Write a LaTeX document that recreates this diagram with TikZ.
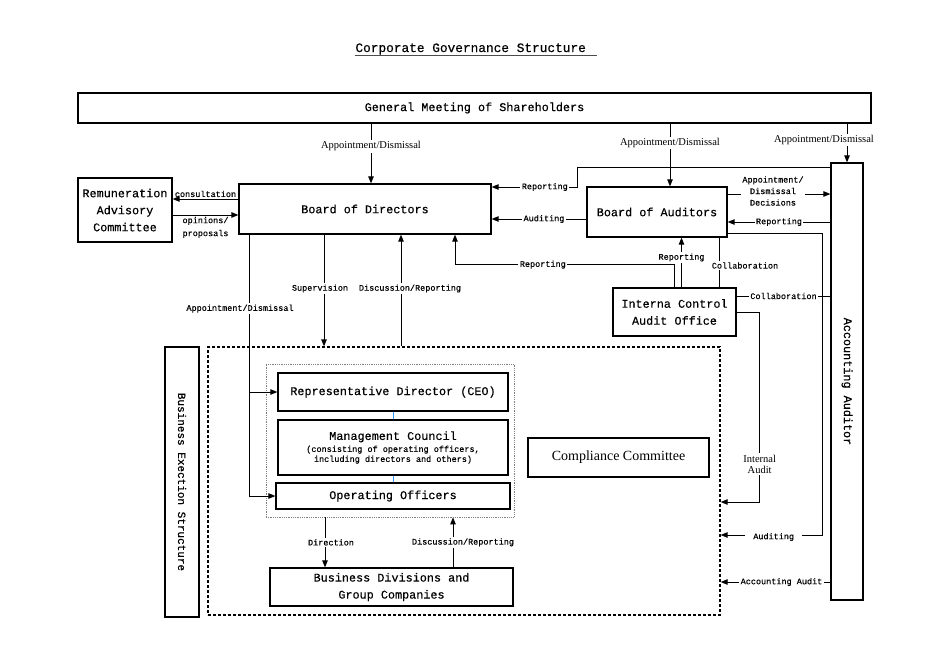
\documentclass[tikz,border=0pt]{standalone}
\usepackage{fontspec}
\usetikzlibrary{arrows.meta}
\newfontfamily\monofam{Liberation Mono}[FakeBold=0.35]
\newfontfamily\seriffam{Liberation Serif}
\newcommand\boxfont{\monofam\fontsize{11.8}{17}\selectfont}
\newcommand\lblfont{\monofam\fontsize{8.5}{11.5}\selectfont}
\newcommand\serlblfont{\seriffam\fontsize{10.5}{11}\selectfont}
\tikzset{
	box/.style={draw, line width=1.3pt, align=center, inner sep=1pt, font=\boxfont},
	lbl/.style={fill=white, inner sep=1.5pt, align=center, font=\lblfont},
	serlbl/.style={lbl, font=\serlblfont},
	arr/.style={-{Triangle[length=7pt,width=5.5pt]}},
}
\begin{document}
\begin{tikzpicture}[x=1pt, y=-1pt, line width=0.9pt]
			\useasboundingbox (0,0) rectangle (950,659);
			\node	(title) at (355,52) [anchor=base west, inner sep=0, font=\monofam\fontsize{12.8}{14}\selectfont] {Corporate Governance Structure};
			\draw[gray!60!black, line width=0.8pt] ([yshift=-3pt]title.base west) -- ++(242,0);
			
			\node	(gm) at (474.5,108) [box, minimum width=793, minimum height=30] {General Meeting of Shareholders};
			\node	(rac) at (125,210) [box, minimum width=94, minimum height=64] {Remuneration\\Advisory\\Committee};
			\node	(bod) at (365,209) [box, minimum width=252, minimum height=50] {Board of Directors};
			\node	(boa) at (657,212) [box, minimum width=140, minimum height=50] {Board of Auditors};
			\node	(aa) at (847,381.5) [box, minimum width=32, minimum height=437] {};
			\node	(aatext) at (aa.center) [rotate=-90, font=\boxfont] {Accounting Auditor};
			\node	(ic) at (674.5,312) [box, minimum width=123, minimum height=48] {Interna Control\\Audit Office};
			\node	(exec) at (464,481) [draw, line width=1.3pt, dash pattern=on 3pt off 2pt, minimum width=512, minimum height=268] {};
			\node	(bes) at (182,482) [box, minimum width=34, minimum height=270] {};
			\node	(bestext) at (bes.center) [rotate=-90, font=\monofam\fontsize{11}{13}\selectfont] {Business Exection Structure};
			\node	(grp) at (390,440.5) [draw=gray, densely dotted, line width=0.8pt, minimum width=248, minimum height=153] {};
			\node	(rep) at (393,392) [box, minimum width=230, minimum height=38] {Representative Director (CEO)};
			\node	(mc) at (393,447.5) [box, minimum width=230, minimum height=55, font=\monofam\fontsize{8.5}{10}\selectfont] {{\boxfont Management Council}\\[2pt](consisting of operating officers,\\including directors and others)};
			\node	(oo) at (393,496) [box, minimum width=234, minimum height=26] {Operating Officers};
			\node	(cc) at (618.5,457.5) [box, minimum width=181, minimum height=39, font=\seriffam\fontsize{14}{16}\selectfont] {Compliance Committee};
			\node	(bd) at (391.5,587) [box, minimum width=243, minimum height=38] {Business Divisions and\\Group Companies};
			
			\draw[arr] ([xshift=6pt]gm.south -| bod.north) -- node[serlbl, pos=0.38] {Appointment/Dismissal} ([xshift=6pt]bod.north);
			\draw[arr] ([xshift=13pt]gm.south -| boa.north) -- node[serlbl, pos=0.31] {Appointment/Dismissal} ([xshift=13pt]boa.north);
			\draw[arr] (gm.south -| aa.north) -- node[serlbl, xshift=-23pt, yshift=3pt] {Appointment/Dismissal} (aa.north);
			
			\draw[arr] ([yshift=10pt]bod.west) -- node[lbl, fill=none, above=0pt] {consultation} ([yshift=10pt]bod.west -| rac.east);
			\draw[arr] ([yshift=-6pt]bod.west -| rac.east) -- node[lbl, fill=none, below, align=left, font=\monofam\fontsize{8.5}{13}\selectfont] {opinions/\\proposals} ([yshift=-6pt]bod.west);
			
			\draw[arr] ([xshift=-116pt]bod.south) |- (oo.west);
			\draw[arr] ([xshift=-116pt]bod.south) |- node[lbl, pos=0.235, xshift=-9pt] {Appointment/Dismissal} (rep.west);
			\draw[arr] ([xshift=-41pt]bod.south) -- node[lbl, xshift=-4pt, yshift=2pt] {Supervision} ([xshift=-41pt]bod.south |- exec.north);
			\draw[arr] ([xshift=36pt]bod.south |- exec.north) -- node[lbl, xshift=9pt, yshift=2pt] {Discussion/Reporting} ([xshift=36pt]bod.south);
			
			\draw[arr] ([yshift=-5pt]aa.north west) -- ++(-253,0) |- node[lbl, pos=0.69] {Reporting} ([yshift=22pt]bod.east);
			\draw[arr] ([yshift=-7pt]boa.west) -- node[lbl, xshift=5pt] {Auditing} ([yshift=-7pt]boa.west -| bod.east);
			\draw[arr] ([yshift=18pt]boa.east) -- node[lbl, xshift=-6pt, yshift=3pt] {Appointment/\\Dismissal\\Decisions} ([yshift=18pt]boa.east -| aa.west);
			\draw[arr] ([yshift=-10pt]boa.east -| aa.west) -- node[lbl] {Reporting} ([yshift=-10pt]boa.east);
			\draw[arr] ([yshift=-21pt]boa.east) -- ++(95,0) |- node[lbl, pos=0.74, inner xsep=8pt, yshift=-2pt] {Auditing} ([yshift=-54pt]exec.east);
			
			\draw[arr] (ic.north) |- node[lbl, pos=0.8] {Reporting} ([xshift=90pt, yshift=-30pt]bod.south) -- ([xshift=90pt]bod.south);
			\draw[arr] ([xshift=7pt]ic.north) -- node[lbl, yshift=5pt] {Reporting} ([xshift=7pt]ic.north |- boa.south);
			\draw ([xshift=62pt]boa.south) -- node[lbl, xshift=26pt, yshift=-3pt] {Collaboration} ([xshift=62pt]boa.south |- ic.north);
			\draw ([yshift=16pt]ic.east) -- node[lbl] {Collaboration} ([yshift=16pt]ic.east -| aa.west);
			\draw[arr] (ic.east) -- ++(23,0) |- node[serlbl, pos=0.4] {Internal\\Audit} ([yshift=-21pt]exec.east);
			\draw[arr] ([yshift=-101pt]exec.east -| aa.west) -- node[lbl, xshift=6pt] {Accounting Audit} ([yshift=-101pt]exec.east);
			
			\draw[blue!50!cyan!80, line width=0.8pt] (rep.south) -- (mc.north) (mc.south) -- (oo.north);
			\draw[arr] ([xshift=-66.5pt]bd.north |- grp.south) -- node[lbl, xshift=6pt] {Direction} ([xshift=-66.5pt]bd.north);
			\draw[arr] ([xshift=61.5pt]bd.north) -- node[lbl, xshift=10pt] {Discussion/Reporting} ([xshift=61.5pt]bd.north |- grp.south);
		\end{tikzpicture}
\end{document}
